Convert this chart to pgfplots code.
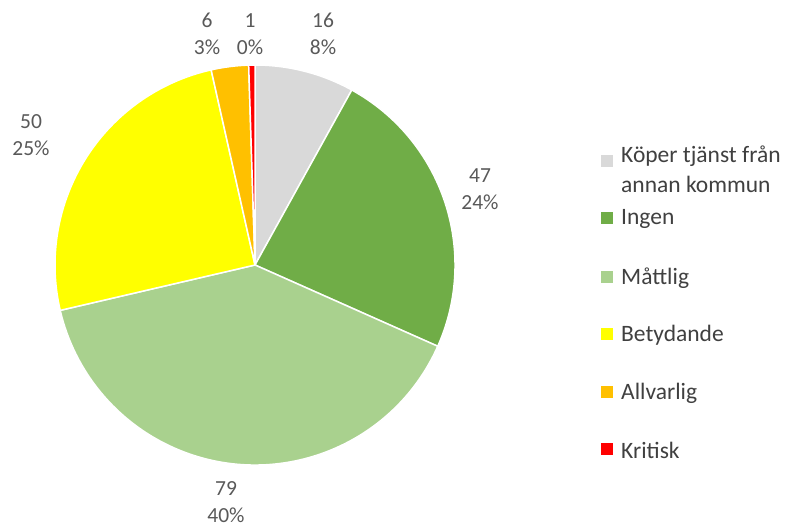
\documentclass[border=0pt]{standalone}
\usepackage{pgfplots}
\pgfplotsset{compat=1.18}
\usepackage{fontspec}
\setmainfont{Carlito}
\definecolor{cKop}{HTML}{D9D9D9}
\definecolor{cIngen}{HTML}{70AD47}
\definecolor{cMattlig}{HTML}{A9D18E}
\definecolor{cBetyd}{HTML}{FFFF00}
\definecolor{cAllv}{HTML}{FFC000}
\definecolor{cKrit}{HTML}{FF0000}
\definecolor{lblgray}{HTML}{595959}
\definecolor{leggray}{HTML}{404040}
\newcommand{\pieslice}[3]{%
  \filldraw[fill=#1, draw=white, line width=1.5bp] (axis cs:255,265) -- ++(#2:200bp) arc[start angle=#2, end angle=#3, radius=200bp] -- cycle;}
\newcommand{\legsq}[2]{\fill[#1] (axis cs:#2) ++(-6bp,-6bp) rectangle ++(12bp,12bp);}
\begin{document}
\begin{tikzpicture}
% data values
\def\vA{16}\def\vB{47}\def\vC{79}\def\vD{50}\def\vE{6}\def\vF{1}
\pgfmathsetmacro{\tot}{\vA+\vB+\vC+\vD+\vE+\vF}
\pgfmathsetmacro{\kk}{360/\tot}
\pgfmathsetmacro{\aA}{90}
\pgfmathsetmacro{\aB}{90-\kk*\vA}
\pgfmathsetmacro{\aC}{90-\kk*(\vA+\vB)}
\pgfmathsetmacro{\aD}{90-\kk*(\vA+\vB+\vC)}
\pgfmathsetmacro{\aE}{90-\kk*(\vA+\vB+\vC+\vD)}
\pgfmathsetmacro{\aF}{90-\kk*(\vA+\vB+\vC+\vD+\vE)}
\pgfmathsetmacro{\aG}{-270}
\begin{axis}[
  scale only axis, width=792bp, height=529bp,
  xmin=0, xmax=792, ymin=0, ymax=529, y dir=reverse,
  hide axis, clip=false,
]
\addplot[draw=none] coordinates {(0,0) (792,529)};
\pieslice{cKop}{\aA}{\aB}
\pieslice{cIngen}{\aB}{\aC}
\pieslice{cMattlig}{\aC}{\aD}
\pieslice{cBetyd}{\aD}{\aE}
\pieslice{cAllv}{\aE}{\aF}
\pieslice{cKrit}{\aF}{\aG}
% data labels
\tikzset{lbl/.style={text=lblgray, font=\fontsize{21.5bp}{27.5bp}\selectfont, align=center, inner sep=0pt}}
\node[lbl] at (axis cs:323,34) {16\\8\%};
\node[lbl] at (axis cs:480,189) {47\\24\%};
\node[lbl] at (axis cs:226,502) {79\\40\%};
\node[lbl] at (axis cs:31,135) {50\\25\%};
\node[lbl] at (axis cs:207,34) {6\\3\%};
\node[lbl] at (axis cs:250,34) {1\\0\%};
% legend
\tikzset{leg/.style={text=leggray, font=\fontsize{23.5bp}{29.5bp}\selectfont, anchor=west, inner sep=0pt, align=left}}
\legsq{cKop}{607,161}
\node[leg, anchor=north west] at (axis cs:621,146) {Köper tjänst från\\annan kommun};
\legsq{cIngen}{607,218}
\node[leg] at (axis cs:621,219) {Ingen};
\legsq{cMattlig}{607,277}
\node[leg] at (axis cs:621,278) {Måttlig};
\legsq{cBetyd}{607,334}
\node[leg] at (axis cs:621,335) {Betydande};
\legsq{cAllv}{607,392}
\node[leg] at (axis cs:621,393) {Allvarlig};
\legsq{cKrit}{607,449}
\node[leg] at (axis cs:621,450) {Kritisk};
\end{axis}
\end{tikzpicture}
\end{document}
